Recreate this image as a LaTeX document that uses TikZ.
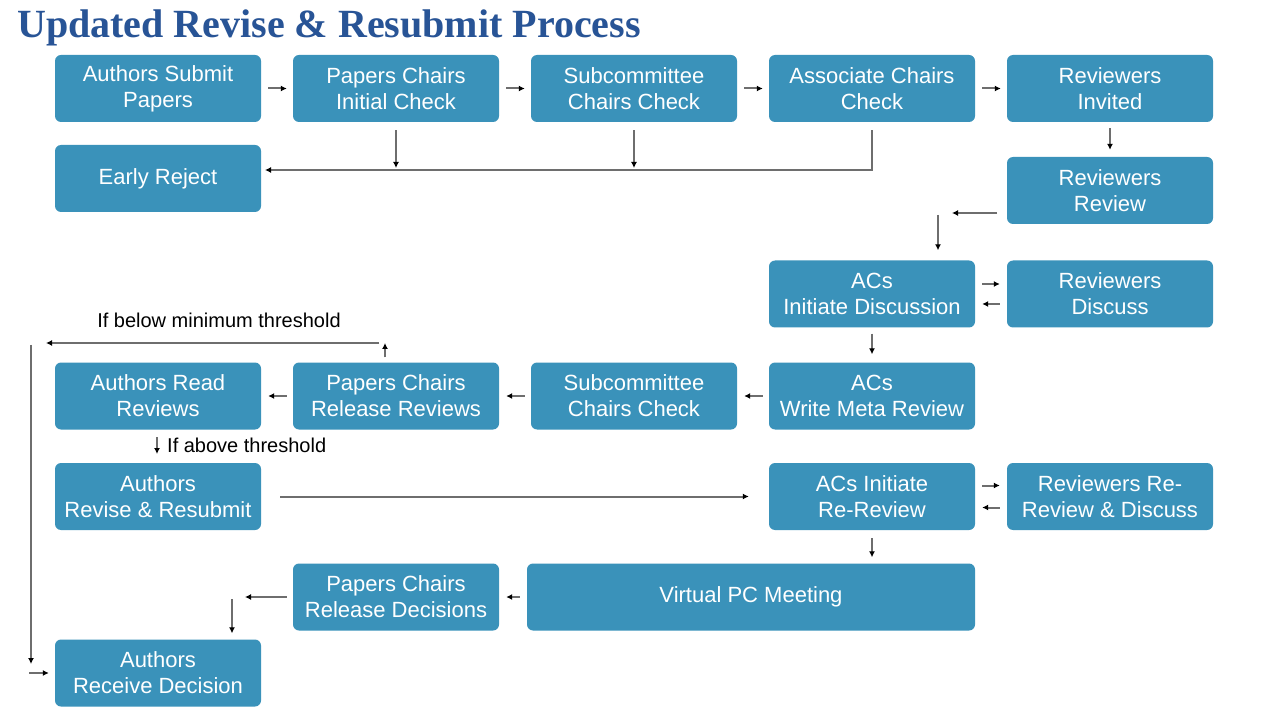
\documentclass[tikz,border=0pt]{standalone}
\usepackage{fontspec}
\setmainfont{Liberation Sans}
\newfontfamily\titlefont{Liberation Serif}
\usetikzlibrary{arrows.meta}
\definecolor{boxblue}{RGB}{58,146,186}
\definecolor{titleblue}{RGB}{40,84,150}
\definecolor{linegray}{RGB}{110,110,110}
\begin{document}
\begin{tikzpicture}[x=1pt,y=-1pt,
 box/.style={rectangle, rounded corners=6pt, fill=boxblue, text=white, minimum width=206pt, minimum height=67pt, align=center, font=\fontsize{22}{26}\selectfont, inner sep=0pt},
 arr/.style={draw=linegray, line width=2pt, -{Latex[length=6pt,width=6pt,color=black]}},
 lbl/.style={font=\fontsize{20}{24}\selectfont, text=black, inner sep=0pt}]
\useasboundingbox[fill=white] (0,0) rectangle (1280,719);
\node[anchor=base west, font=\titlefont\bfseries\fontsize{40}{44}\selectfont, text=titleblue, inner sep=0pt] (title) at (17,38) {Updated Revise \& Resubmit Process};
% boxes
\node[box] (submit) at (158,88.5) {Authors Submit\\Papers};
\node[box] (pcinit) at (396,88.5) {Papers Chairs\\Initial Check};
\node[box] (scc1) at (634,88.5) {Subcommittee\\Chairs Check};
\node[box] (acc) at (872,88.5) {Associate Chairs\\Check};
\node[box] (rinv) at (1110,88.5) {Reviewers\\Invited};
\node[box] (early) at (158,178.5) {Early Reject};
\node[box] (rrev) at (1110,190.5) {Reviewers\\Review};
\node[box] (acdisc) at (872,294) {ACs\\Initiate Discussion};
\node[box] (rdisc) at (1110,294) {Reviewers\\Discuss};
\node[box] (read) at (158,396) {Authors Read\\Reviews};
\node[box] (relrev) at (396,396) {Papers Chairs\\Release Reviews};
\node[box] (scc2) at (634,396) {Subcommittee\\Chairs Check};
\node[box] (meta) at (872,396) {ACs\\Write Meta Review};
\node[box] (revise) at (158,496.5) {Authors\\Revise \& Resubmit};
\node[box] (rereview) at (872,496.5) {ACs Initiate\\Re-Review};
\node[box] (rrd) at (1110,496.5) {Reviewers Re-\\Review \& Discuss};
\node[box, minimum width=448pt] (pcm) at (751,597) {Virtual PC Meeting};
\node[box] (reldec) at (396,597) {Papers Chairs\\Release Decisions};
\node[box] (recv) at (158,673) {Authors\\Receive Decision};
% row 1
\draw[arr] ([xshift=7pt]submit.east) -- ([xshift=-6pt]pcinit.west);
\draw[arr] ([xshift=7pt]pcinit.east) -- ([xshift=-6pt]scc1.west);
\draw[arr] ([xshift=7pt]scc1.east) -- ([xshift=-6pt]acc.west);
\draw[arr] ([xshift=7pt]acc.east) -- ([xshift=-6pt]rinv.west);
\draw[arr] ([yshift=-6pt]rinv.south) -- ([yshift=7pt]rrev.north);
% early reject
\coordinate (rj) at (872,170);
\coordinate (rjend) at (265,170);
\draw[arr] ([yshift=-8pt]acc.south) -- (rj) -- (rjend);
\draw[arr] ([yshift=-8pt]pcinit.south) -- ([yshift=2pt]pcinit.south |- rj);
\draw[arr] ([yshift=-8pt]scc1.south) -- ([yshift=2pt]scc1.south |- rj);
% reviewers review to ACs
\coordinate (rv0) at (997,213);
\coordinate (rv1) at (952,213);
\coordinate (rv2) at (938,215);
\draw[arr] (rv0) -- (rv1);
\draw[arr] (rv2) -- ([yshift=10pt]rv2 |- acdisc.north);
\draw[arr] ([xshift=7pt,yshift=10pt]acdisc.east) -- ([xshift=-7pt,yshift=10pt]rdisc.west);
\draw[arr] ([xshift=-7pt,yshift=-10pt]rdisc.west) -- ([xshift=7pt,yshift=-10pt]acdisc.east);
\draw[arr] ([yshift=-6pt]acdisc.south) -- ([yshift=8pt]meta.north);
% row 4 leftwards
\draw[arr] ([xshift=-6pt]meta.west) -- ([xshift=7pt]scc2.east);
\draw[arr] ([xshift=-6pt]scc2.west) -- ([xshift=7pt]relrev.east);
\draw[arr] ([xshift=-6pt]relrev.west) -- ([xshift=7pt]read.east);
% below threshold
\coordinate (th1) at (385,343);
\coordinate (th2) at (46,343);
\coordinate (tl1) at (31,345);
\coordinate (tl2) at (31,664);
\coordinate (tl3) at (29,673);
\draw[arr] ([xshift=-11pt,yshift=5pt]relrev.north) -- (th1);
\draw[arr] ([xshift=-6pt]th1) -- (th2);
\node[lbl, anchor=base] (lbelow) at (219,328) {If below minimum threshold};
\draw[arr] (tl1) -- (tl2);
\draw[arr] (tl3) -- ([xshift=-6pt]recv.west);
% above threshold
\coordinate (ab1) at (157,437);
\coordinate (ab2) at (157,454);
\draw[arr] (ab1) -- (ab2);
\node[lbl, anchor=base west] (labove) at (167,452) {If above threshold};
% revise
\draw[arr] ([xshift=19pt]revise.east) -- ([xshift=-20pt]rereview.west);
\draw[arr] ([xshift=7pt,yshift=11pt]rereview.east) -- ([xshift=-7pt,yshift=11pt]rrd.west);
\draw[arr] ([xshift=-7pt,yshift=-11pt]rrd.west) -- ([xshift=7pt,yshift=-11pt]rereview.east);
\draw[arr] ([yshift=-8pt]rereview.south) -- ([yshift=6pt]rereview.south |- pcm.north);
\draw[arr] ([xshift=-7pt]pcm.west) -- ([xshift=7pt]reldec.east);
% release decisions to receive
\coordinate (rd1) at (245,597);
\coordinate (rd2) at (232,599);
\draw[arr] ([xshift=-6pt]reldec.west) -- (rd1);
\draw[arr] (rd2) -- ([yshift=6pt]rd2 |- recv.north);
\end{tikzpicture}
\end{document}
